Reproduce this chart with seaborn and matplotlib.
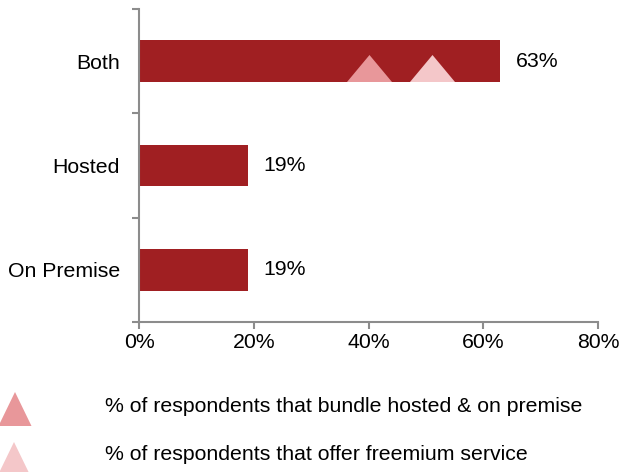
import matplotlib
matplotlib.use("Agg")
import matplotlib.pyplot as plt
from matplotlib.patches import Polygon
from matplotlib.ticker import FixedLocator, PercentFormatter
import seaborn as sns
import pandas as pd

# Deployment model shares (percent of respondents)
categories = ["Both", "Hosted", "On Premise"]
shares = [63, 19, 19]

# Overlay markers on the "Both" bar
bundle_pct = 40      # bundle hosted & on premise
freemium_pct = 51    # offer freemium service

legend_labels = [
    "% of respondents that bundle hosted & on premise",
    "% of respondents that offer freemium service",
]

bar_color = "#A01F22"
bundle_color = "#E8979A"
freemium_color = "#F4C7C9"
axis_color = "#8C8C8C"
text_color = "black"
fs = 15.3

sns.set_style("ticks")
plt.rcParams["font.family"] = ["Liberation Sans", "DejaVu Sans"]
plt.rcParams["font.size"] = fs
plt.rcParams["text.color"] = text_color
plt.rcParams["xtick.labelcolor"] = text_color
plt.rcParams["ytick.labelcolor"] = text_color

df = pd.DataFrame({"category": categories, "share": shares})

fig = plt.figure(figsize=(6.19, 4.72), dpi=100)
ax = fig.add_axes([0.225, 0.318, 0.741, 0.663])

sns.barplot(data=df, x="share", y="category", orient="h", color=bar_color,
            width=0.4, saturation=1, ax=ax, edgecolor="none")

ax.set_xlim(0, 80)
ax.set_ylim(2.5, -0.5)
ax.xaxis.set_major_locator(FixedLocator([0, 20, 40, 60, 80]))
ax.xaxis.set_major_formatter(PercentFormatter(decimals=0))
ax.set_xlabel("")
ax.set_ylabel("")

# Category separators as minor ticks, no tick at the label itself
ax.yaxis.set_minor_locator(FixedLocator([-0.5, 0.5, 1.5, 2.5]))
ax.tick_params(axis="y", which="major", length=0, pad=14, labelsize=fs,
               labelcolor=text_color)
ax.tick_params(axis="y", which="minor", length=5, width=1.5, color=axis_color)
ax.tick_params(axis="x", which="major", length=5, width=1.5, color=axis_color,
               pad=3, labelsize=fs, labelcolor=text_color)

for side in ("top", "right"):
    ax.spines[side].set_visible(False)
for side in ("left", "bottom"):
    ax.spines[side].set_color(axis_color)
    ax.spines[side].set_linewidth(1.5)

# Value labels at the bar ends
for i, v in enumerate(shares):
    ax.annotate(f"{v}%", xy=(v, i), xytext=(11, 0), textcoords="offset points",
                va="center", ha="left", fontsize=fs, color=text_color)

# Triangle markers inside the "Both" bar
tri = [(-1, -0.6), (1, -0.6), (0, 0.6)]
both_pos = categories.index("Both")
ax.scatter([bundle_pct], [both_pos + 0.062], marker=tri, s=1050,
           color=bundle_color, linewidths=0, zorder=5)
ax.scatter([freemium_pct], [both_pos + 0.062], marker=tri, s=1050,
           color=freemium_color, linewidths=0, zorder=5)

# Legend below the chart: triangle glyphs plus descriptions
W, H = 619, 472


def fig_tri(apex_x, apex_y, half_w, height, color):
    pts = [(apex_x / W, 1 - apex_y / H),
           ((apex_x - half_w) / W, 1 - (apex_y + height) / H),
           ((apex_x + half_w) / W, 1 - (apex_y + height) / H)]
    fig.add_artist(Polygon(pts, closed=True, transform=fig.transFigure,
                           facecolor=color, edgecolor="none"))


fig_tri(15, 392, 16.5, 34, bundle_color)
fig_tri(14, 442, 16.5, 34, freemium_color)
fig.text(105 / W, 1 - 406 / H, legend_labels[0], va="center", ha="left",
         fontsize=fs, color=text_color)
fig.text(105 / W, 1 - 454 / H, legend_labels[1], va="center", ha="left",
         fontsize=fs, color=text_color)

fig.savefig("out.png", dpi=100)
